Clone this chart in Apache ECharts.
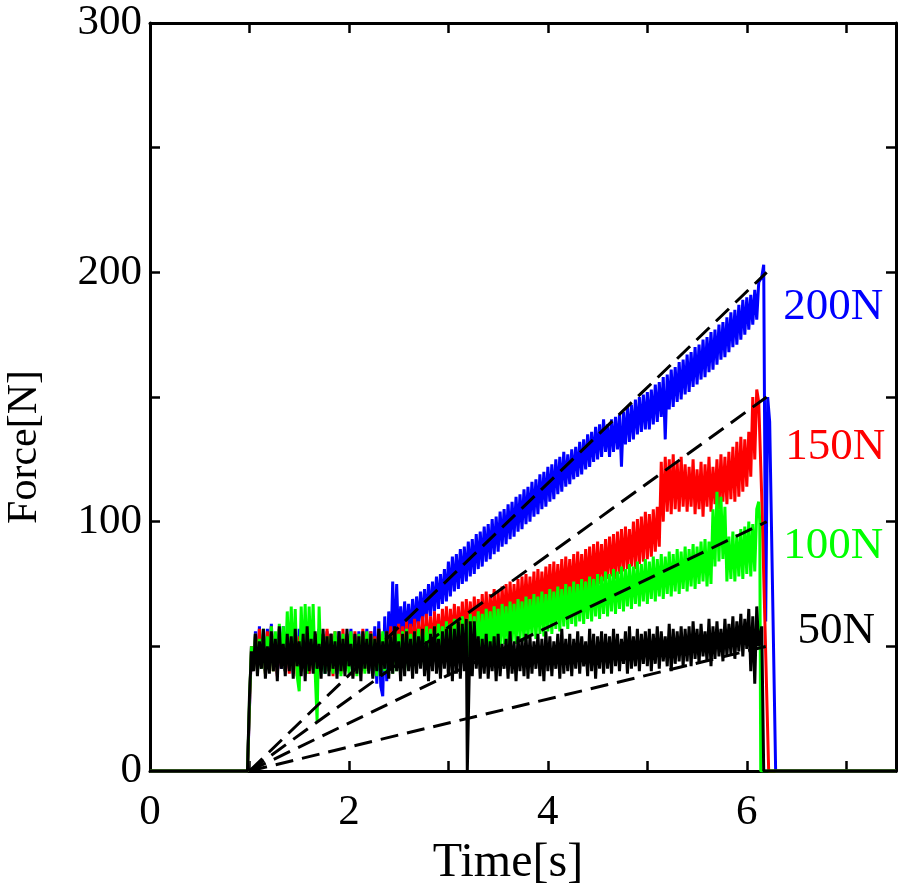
<!DOCTYPE html>
<html><head><meta charset="utf-8">
<script src="https://cdn.jsdelivr.net/npm/echarts@6/dist/echarts.min.js"></script>
<style>html,body{margin:0;padding:0;background:#fff}#c{width:898px;height:895px}</style>
</head><body><div id="c"></div>
<script>
// sample grid: t = 1.00, 1.02, ... 6.12
const T0 = 1.0, DT = 0.02;

const blue200 = [
 25,50,41,56,40,58,42,55,40,57, 41,59,42,54,39,56,41,58,40,55,
 41,56,39,55,42,57,40,54,41,56, 39,58,42,55,40,57,41,54,39,56,
 40,55,41,54,39,56,42,53,40,55, 41,57,39,54,42,56,40,55,41,57,
 40,56,38,58,35,60,34,30,62,36, 64,45,76,48,75,50,66,52,68,53,
 67,54,69,56,70,58,72,59,73,61, 75,62,76,64,78,65,79,67,81,68,
 84,70,86,72,87,73,89,75,90,76, 92,78,93,79,95,81,96,82,98,84,
 99,85,101,87,102,88,104,90,105,91, 107,93,108,94,110,96,111,97,113,99,
 114,100,116,102,117,103,119,105,120,106, 122,108,123,109,125,111,126,112,128,114,
 127,115,129,117,130,118,132,119,133,121, 135,122,136,124,138,125,139,126,141,128,
 139,126,141,128,142,129,143,122,144,131, 146,132,147,133,149,135,150,136,151,137,
 152,137,153,139,155,140,156,142,158,133, 159,145,161,146,162,148,164,149,165,151,
 167,152,168,154,170,155,171,157,173,158, 174,160,176,161,177,163,179,165,180,166,
 182,168,184,170,185,171,187,173,189,175, 190,177,191,179,193,181,196];
const blueEvents = [[0,0],[0.98,0],[6.15,198],[6.17,203],[6.19,60],[6.21,150],[6.23,140],[6.29,0],[7.5,0]];

const red150 = [
 26,50,41,55,40,57,42,54,39,56, 41,58,40,55,38,57,42,53,40,56,
 39,55,41,57,38,54,40,56,42,53, 39,57,41,55,38,56,40,54,42,57,
 40,55,38,56,41,53,39,57,40,54, 42,55,38,56,41,54,39,57,40,55,
 41,56,39,54,42,57,40,55,41,56, 43,58,42,57,44,59,43,58,45,60,
 44,59,46,61,45,60,47,62,46,63, 48,62,47,64,49,63,48,65,50,66,
 49,65,51,67,50,66,52,68,51,69, 53,68,52,70,54,69,53,71,55,72,
 54,71,56,73,55,72,57,74,58,75, 57,76,59,75,60,77,59,78,61,79,
 62,78,63,80,62,81,64,80,65,82, 66,83,65,84,67,83,68,85,67,86,
 69,85,70,87,69,88,71,87,72,89, 73,90,72,91,74,92,75,91,76,93,
 77,94,78,95,77,96,79,97,80,98, 81,97,82,100,81,101,83,102,84,104,
 85,103,86,105,88,106,90,124,100,126, 104,125,103,127,105,124,104,126,106,123,
 104,122,106,125,103,121,105,124,102,123, 106,126,104,122,107,125,105,127,108,126,
 107,128,109,130,108,132,110,134,112,133, 114,136,118,150,125,153,148];
const redEvents = [[0,0],[0.98,0],[6.15,110],[6.22,0],[7.5,0]];

const green100 = [
 28,50,42,55,40,53,41,57,39,54, 42,58,40,56,41,59,43,58,40,64,
 42,66,40,65,38,32,66,41,67,39, 66,42,67,40,20,66,40,55,39,54,
 40,54,39,56,41,53,38,55,40,54, 39,56,41,53,38,55,40,54,39,56,
 41,55,40,53,38,54,39,56,40,55, 41,54,39,57,40,55,41,56,40,57,
 42,55,41,56,43,57,42,56,43,58, 44,57,43,58,44,59,45,58,44,60,
 45,59,44,61,46,60,45,62,47,61, 46,63,47,62,48,64,47,63,48,65,
 49,64,48,66,50,65,49,67,51,66, 50,68,52,67,51,69,53,68,52,70,
 53,69,54,71,53,70,55,72,54,71, 56,73,55,72,57,74,56,73,58,75,
 57,74,59,76,58,75,60,77,59,76, 61,78,60,77,62,79,61,78,63,80,
 62,79,64,81,63,80,65,82,64,81, 66,83,65,82,67,84,66,83,68,85,
 67,84,69,86,68,85,70,87,69,86, 71,88,70,87,72,89,71,88,73,90,
 72,89,74,91,73,90,75,92,76,93, 74,92,75,105,82,112,84,110,85,106,
 76,94,77,96,76,95,78,97,77,98, 79,100,78,99,80,105,108];
const greenEvents = [[0,0],[0.98,0],[6.13,100],[6.14,0],[7.5,0]];

const black50 = [
 30,48,40,55,38,52,41,57,37,50, 39,56,40,53,36,58,41,51,38,55,
 40,54,37,57,42,52,38,55,36,58, 40,53,39,56,41,51,37,57,39,54,
 38,55,41,52,37,56,40,53,38,57, 42,51,37,55,39,54,36,56,41,53,
 39,55,37,53,40,57,38,52,41,56, 37,54,39,58,40,52,36,55,38,56,
 40,53,37,56,39,54,41,57,38,52, 36,55,40,58,39,53,37,56,41,57,
 38,58,36,57,39,60,37,59,40,61, 0,60,38,60,41,54,37,53,39,55,
 37,52,40,54,36,55,38,51,41,53, 37,56,39,52,36,54,40,53,38,55,
 37,54,39,52,41,55,38,53,36,56, 40,54,38,52,41,55,37,57,39,53,
 40,55,38,53,41,56,39,54,42,52, 38,57,40,55,37,54,41,56,39,55,
 41,54,39,57,42,55,40,53,43,56, 39,58,41,54,42,57,40,55,43,56,
 42,57,40,55,43,58,41,56,44,54, 42,59,40,57,43,56,44,58,42,57,
 44,58,42,60,45,57,43,59,46,56, 44,61,42,58,45,60,46,57,44,61,
 46,59,47,62,45,60,48,63,46,61, 49,65,40,62,35,66,50];
const blackEvents = [[0,0],[0.98,0],[3.19,0],[3.21,0],[6.15,58],[6.17,0],[7.5,0]];

// reference (target) lines
const refStart = [1.0, 0];
const refEnds = [[6.2,200],[6.2,150],[6.2,100],[6.2,50]];

const labelTexts = ['200N','150N','100N','50N'];
const labelPos = [[6.87,186],[6.89,130],[6.87,90],[6.9,56]];
const colors = ['#0000ff','#ff0000','#00ff00','#000000'];

function build(vals, events){
  const pts = vals.map((v,i)=>[+(T0 + i*DT).toFixed(2), v]);
  return pts.concat(events).sort((a,b)=>a[0]-b[0]);
}

const FONT = 'Liberation Serif';
const lineS = (data, color, w) => ({
  type:'line', data, symbol:'none', showSymbol:false, animation:false, clip:true,
  sampling:null, lineStyle:{color, width:w}, z:2
});

const series = [
  lineS(build(blue200, blueEvents), colors[0], 3),
  lineS(build(red150, redEvents), colors[1], 3),
  lineS(build(green100, greenEvents), colors[2], 3),
  lineS(build(black50, blackEvents), colors[3], 3),
];
refEnds.forEach(e=>{
  series.push({type:'line', data:[refStart, e], symbol:'none', animation:false, z:3,
    lineStyle:{color:'#000', width:3, type:[18,9]}});
});
series.push({
  type:'scatter', symbolSize:0, animation:false, z:4, silent:true,
  itemStyle:{color:'transparent', opacity:1},
  data: labelTexts.map((t,i)=>({value:labelPos[i], name:t,
    label:{show:true, position:'inside', formatter:t, color:colors[i], opacity:1,
      fontFamily:FONT, fontSize:45}}))
});

const axisBase = {
  type:'value',
  axisLine:{show:true, onZero:false, lineStyle:{color:'#000', width:3}},
  axisTick:{show:true, inside:true, length:10, lineStyle:{color:'#000', width:2.5}},
  splitLine:{show:false}
};

const option = {
  backgroundColor:'#fff',
  animation:false,
  grid:{left:150, right:2, top:23, bottom:124, outerBoundsMode:'none'},
  xAxis:[
    Object.assign({}, axisBase, {min:0, max:7.5, interval:1, position:'bottom',
      axisLabel:{formatter:v=> (v%2===0 ? String(v) : ''), fontFamily:FONT, fontSize:43, color:'#000', margin:20},
      name:'Time[s]', nameLocation:'middle', nameGap:60,
      nameTextStyle:{fontFamily:FONT, fontSize:48, color:'#000', padding:[0,30,0,0]}}),
    Object.assign({}, axisBase, {min:0, max:7.5, interval:1, position:'top', axisLabel:{show:false}})
  ],
  yAxis:[
    Object.assign({}, axisBase, {min:0, max:300, interval:50, position:'left',
      axisLabel:{formatter:v=> (v%100===0 ? String(v) : ''), fontFamily:FONT, fontSize:43, color:'#000', margin:8},
      name:'Force[N]', nameLocation:'middle', nameGap:104, nameRotate:90,
      nameTextStyle:{fontFamily:FONT, fontSize:42, color:'#000', padding:[0,100,0,0]}}),
    Object.assign({}, axisBase, {min:0, max:300, interval:50, position:'right', axisLabel:{show:false}})
  ],
  series
};
const chart = echarts.init(document.getElementById('c'), null, {renderer:'canvas'});
chart.setOption(option);
</script>
</body></html>
